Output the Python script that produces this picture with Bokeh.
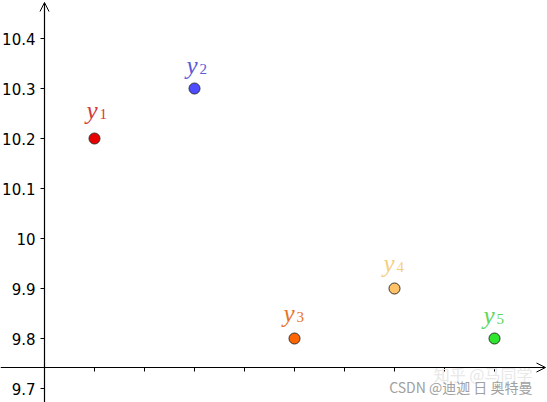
from bokeh.plotting import figure
from bokeh.models import ColumnDataSource, Arrow, OpenHead, Range1d
from bokeh.core.properties import value
from bokeh.embed import file_html
from bokeh.resources import INLINE

# data
xs = [1, 2, 3, 4, 5]
ys = [10.2, 10.3, 9.8, 9.9, 9.8]
names = ["y", "y", "y", "y", "y"]
subs = ["1", "2", "3", "4", "5"]

# styles
point_colors = ["#e60000", "#4d4dff", "#ff6600", "#ffc266", "#2ee62e"]
label_colors = ["#d33a3a", "#5a5ad8", "#e57428", "#f5cf80", "#5fd65a"]
label_dx = [-8, -8, -11, -11, -11]
label_dy = [-28, -23, -25, -25, -23]

ytick_vals = [9.7, 9.8, 9.9, 10.0, 10.1, 10.2, 10.3, 10.4]
ytick_labels = ["9.7", "9.8", "9.9", "10", "10.1", "10.2", "10.3", "10.4"]
xtick_vals = [1, 1.5, 2, 2.5, 3, 3.5, 4, 4.5, 5]

y_axis_at = 0.5
x_axis_at = 9.742
x_lo, x_hi = 0.06, 5.53
y_lo, y_hi = 9.672, 10.476

p = figure(width=547, height=402, output_backend="svg", toolbar_location=None,
           x_axis_location=None, y_axis_location=None, min_border=0,
           x_range=Range1d(x_lo, x_hi), y_range=Range1d(y_lo, y_hi))
p.outline_line_color = None
p.grid.visible = False
p.background_fill_color = "white"
p.border_fill_color = "white"

# axes lines with open arrowheads
p.add_layout(Arrow(end=OpenHead(size=9, line_width=1, line_color="black"),
                   x_start=y_axis_at, y_start=y_lo, x_end=y_axis_at, y_end=y_hi - 0.004,
                   line_color="black", line_width=1.2))
p.add_layout(Arrow(end=OpenHead(size=9, line_width=1, line_color="black"),
                   x_start=x_lo, y_start=x_axis_at, x_end=x_hi - 0.02, y_end=x_axis_at,
                   line_color="black", line_width=1.2))

# y ticks
p.segment(x0=[y_axis_at - 0.04] * len(ytick_vals), y0=ytick_vals,
          x1=[y_axis_at] * len(ytick_vals), y1=ytick_vals,
          line_color="black", line_width=1)
p.text(x=[y_axis_at] * len(ytick_vals), y=ytick_vals, text=ytick_labels,
       x_offset=-9, text_align="right", text_baseline="middle",
       text_font=value("DejaVu Sans"), text_font_size="15px", text_color="black")

# x ticks
p.segment(x0=xtick_vals, y0=[x_axis_at] * len(xtick_vals),
          x1=xtick_vals, y1=[x_axis_at - 0.008] * len(xtick_vals),
          line_color="black", line_width=1)

# points
src = ColumnDataSource(dict(x=xs, y=ys, n=names, s=subs, pc=point_colors, lc=label_colors,
                            dx=label_dx, dy=label_dy,
                            sdx=[d + 13 for d in label_dx], sdy=[d + 3 for d in label_dy]))
p.scatter("x", "y", source=src, size=11, fill_color="pc", line_color="#333333", line_width=1)

# labels
p.text("x", "y", text="n", source=src, x_offset="dx", y_offset="dy",
       text_align="left", text_baseline="alphabetic",
       text_font=value("Liberation Serif"), text_font_style="italic",
       text_font_size="25px", text_color="lc")
p.text("x", "y", text="s", source=src, x_offset="sdx", y_offset="sdy",
       text_align="left", text_baseline="alphabetic",
       text_font=value("Liberation Serif"), text_font_size="15px", text_color="lc")

# watermarks
p.text(x=[5.38], y=[9.73], text=["知乎 @马同学"], text_align="right", text_baseline="middle",
       text_font=value("Noto Sans CJK SC"), text_font_size="16px", text_color="#e8e8e8")
p.text(x=[5.38], y=[9.704], text=["CSDN @迪迦 日 奥特曼"], text_align="right", text_baseline="middle",
       text_font=value("Noto Sans CJK SC"), text_font_size="14px", text_color="#a0a0a0")

open("out.html", "w").write(file_html(p, INLINE))
